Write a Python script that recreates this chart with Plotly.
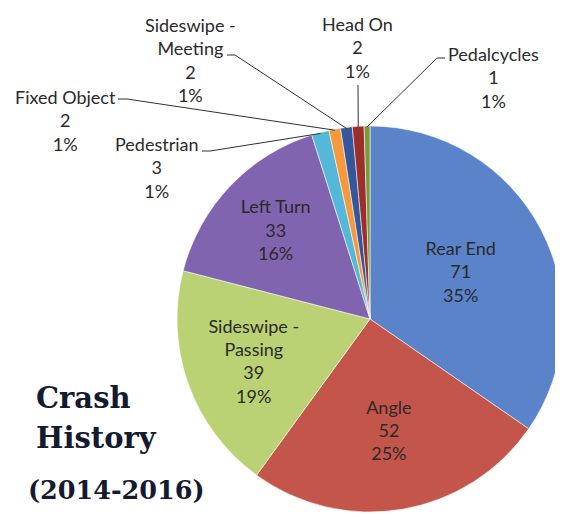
import math
import plotly.graph_objects as go

# ---- data ----
categories = ["Rear End", "Angle", "Sideswipe - Passing", "Left Turn", "Pedestrian",
              "Fixed Object", "Sideswipe - Meeting", "Head On", "Pedalcycles"]
counts = [71, 52, 39, 33, 3, 2, 2, 2, 1]
percent_labels = ["35%", "25%", "19%", "16%", "1%", "1%", "1%", "1%", "1%"]
colors = ["#5A83C9", "#C4554B", "#BAD273", "#8064B0", "#55B8D9",
          "#F4993E", "#33579A", "#9A2F2B", "#789A3A"]
title_lines = ["Crash", "History", "(2014-2016)"]

# ---- layout geometry (screen pixel positions; page body has an 8px margin) ----
SCREEN_W, SCREEN_H = 563, 514
OFF = 8
W, H = SCREEN_W - OFF, SCREEN_H - OFF
CX, CY, R = 370, 319, 193
LABEL_FONT = dict(family="Lato, Carlito, sans-serif", size=18, color="#2a2a2a")

def px(x):
    return (x - OFF) / W

def py(y):
    return 1 - (y - OFF) / H

display = [c.replace("Sideswipe - ", "Sideswipe -<br>") for c in categories]
big = [i for i, v in enumerate(counts) if v >= 10]
inside_text = [f"{display[i]}<br>{counts[i]}<br>{percent_labels[i]}" if i in big else ""
               for i in range(len(counts))]

fig = go.Figure(go.Pie(
    labels=categories,
    values=counts,
    text=inside_text,
    textinfo="text",
    textposition=["inside" if i in big else "none" for i in range(len(counts))],
    insidetextorientation="horizontal",
    insidetextfont=LABEL_FONT,
    sort=False,
    direction="clockwise",
    rotation=0,
    marker=dict(colors=colors, line=dict(color="rgba(255,255,255,0.55)", width=1)),
    domain=dict(x=[max(0, px(CX - R)), min(1, px(CX + R))],
                y=[max(0, py(CY + R)), min(1, py(CY - R))]),
    showlegend=False,
    hoverinfo="label+value",
))

# outside labels for small slices (text block centre, leader start points)
outside = {
    "Pedestrian": dict(xy=(157, 168), lead=[(202, 151), (210, 151)]),
    "Fixed Object": dict(xy=(65, 120), lead=[(118, 99), (127, 99)]),
    "Sideswipe - Meeting": dict(xy=(190, 60), lead=[(227, 55), (235, 55)]),
    "Head On": dict(xy=(357, 47), lead=[(358, 85)]),
    "Pedalcycles": dict(xy=(493, 78), lead=[(445, 58), (437, 58)]),
}

total = sum(counts)
cum = 0
annotations = []
shapes = []
for i, (cat, v) in enumerate(zip(categories, counts)):
    mid = (cum + v / 2) / total * 2 * math.pi
    cum += v
    if cat not in outside:
        continue
    o = outside[cat]
    ex = CX + R * 0.995 * math.sin(mid)
    ey = CY - R * 0.995 * math.cos(mid)
    pts = o["lead"] + [(ex, ey)]
    path = "M " + " L ".join(f"{px(a):.5f},{py(b):.5f}" for a, b in pts)
    shapes.append(dict(type="path", xref="paper", yref="paper", path=path,
                       line=dict(color="#303030", width=1)))
    annotations.append(dict(
        x=px(o["xy"][0]), y=py(o["xy"][1]), xref="paper", yref="paper",
        text=f"{display[i]}<br>{v}<br>{percent_labels[i]}",
        showarrow=False, xanchor="center", yanchor="middle", align="center",
        font=LABEL_FONT,
    ))

TITLE_FONT = dict(family="DejaVu Serif, serif", color="#141A30", weight="bold")
for text, (x, y), size in zip(title_lines, [(34, 398), (34, 438), (26, 490)], [29, 29, 25.5]):
    annotations.append(dict(
        x=px(x), y=py(y), xref="paper", yref="paper", text=text, showarrow=False,
        xanchor="left", yanchor="middle", font=dict(TITLE_FONT, size=size),
    ))

fig.update_layout(
    width=W, height=H,
    margin=dict(l=0, r=0, t=0, b=0),
    paper_bgcolor="white", plot_bgcolor="white",
    shapes=shapes, annotations=annotations,
)

fig.write_html("out.html")
